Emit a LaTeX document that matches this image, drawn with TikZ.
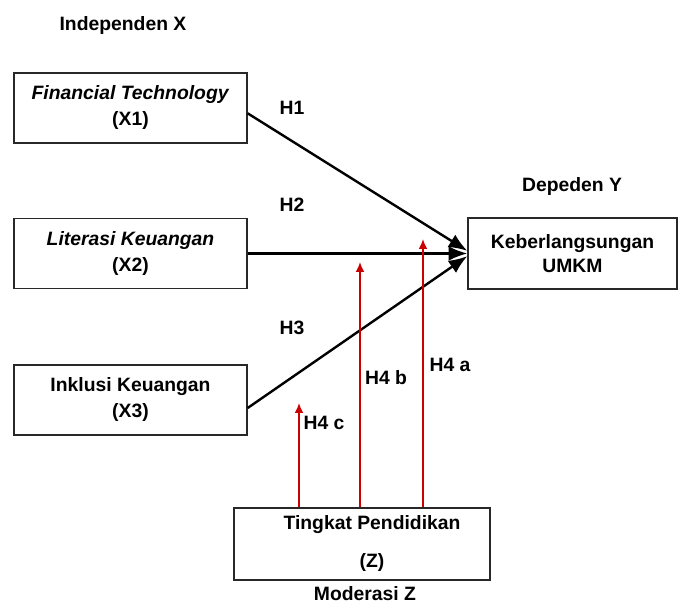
\documentclass[tikz,border=0pt]{standalone}
\usepackage{fontspec}
\setmainfont{Liberation Sans}
\usepackage{tikz}
\usetikzlibrary{arrows.meta,positioning}
\definecolor{hred}{RGB}{204,0,0}
\definecolor{boxgray}{RGB}{40,40,40}
\tikzstyle{varbox} = [rectangle, draw=boxgray, line width=1pt, minimum width=174.75pt, minimum height=52.5pt, inner sep=0pt, align=center, font=\bfseries\fontsize{14.5}{19.5}\selectfont]
\tikzstyle{tag} = [inner sep=0pt, font=\bfseries\fontsize{14.5}{17}\selectfont]
\tikzstyle{hyp} = [line width=1.8pt, -{Latex[length=14pt,width=11pt]}]
\tikzstyle{modarrow} = [line width=1.1pt, color=hred, -{Latex[length=7.5pt,width=6.5pt]}]

\begin{document}
\begin{tikzpicture}[x=0.75pt, y=-0.75pt]
\useasboundingbox (0,0) rectangle (683,605);
\node (indep) [tag] at (123,26) {Independen X};
\node (x1) [varbox] at (130.5,108) {\textit{Financial Technology}\\(X1)};
\node (x2) [varbox] at (130.5,253.5) {\textit{Literasi Keuangan}\\(X2)};
\node (x3) [varbox] at (130.5,400) {Inklusi Keuangan\\(X3)};
\node (dep) [tag] at (572,187) {Depeden Y};
\node (y) [varbox, minimum width=156.75pt, minimum height=53.25pt] at (572.5,253.5) {Keberlangsungan\\[-2pt]UMKM};
\node (z) [varbox, minimum width=192pt, minimum height=54pt] at (362,544) {\hspace*{15pt}Tingkat Pendidikan\\[9pt]\hspace*{15pt}(Z)};
\node (modz) [tag] at (365,594) {Moderasi Z};

% hipotesis langsung
\draw[hyp] ([yshift=-4pt]x1.east) -- ([yshift=2pt]y.west);
\draw[hyp] (x2.east) -- (y.west);
\draw[hyp] ([yshift=-6pt]x3.east) -- ([yshift=-2pt]y.west);
\node (h1) [tag] at (292,108) {H1};
\node (h2) [tag] at (292,205) {H2};
\node (h3) [tag] at (292,328) {H3};

% moderasi
\coordinate (ha) at (423,239);
\coordinate (hb) at (360,262);
\coordinate (hc) at (299,403);
\draw[modarrow] (ha |- z.north) -- (ha);
\draw[modarrow] (hb |- z.north) -- (hb);
\draw[modarrow] (hc |- z.north) -- (hc);
\node (h4a) [tag] at (450,365) {H4 a};
\node (h4b) [tag] at (386,378) {H4 b};
\node (h4c) [tag] at (324,423) {H4 c};
\end{tikzpicture}
\end{document}
